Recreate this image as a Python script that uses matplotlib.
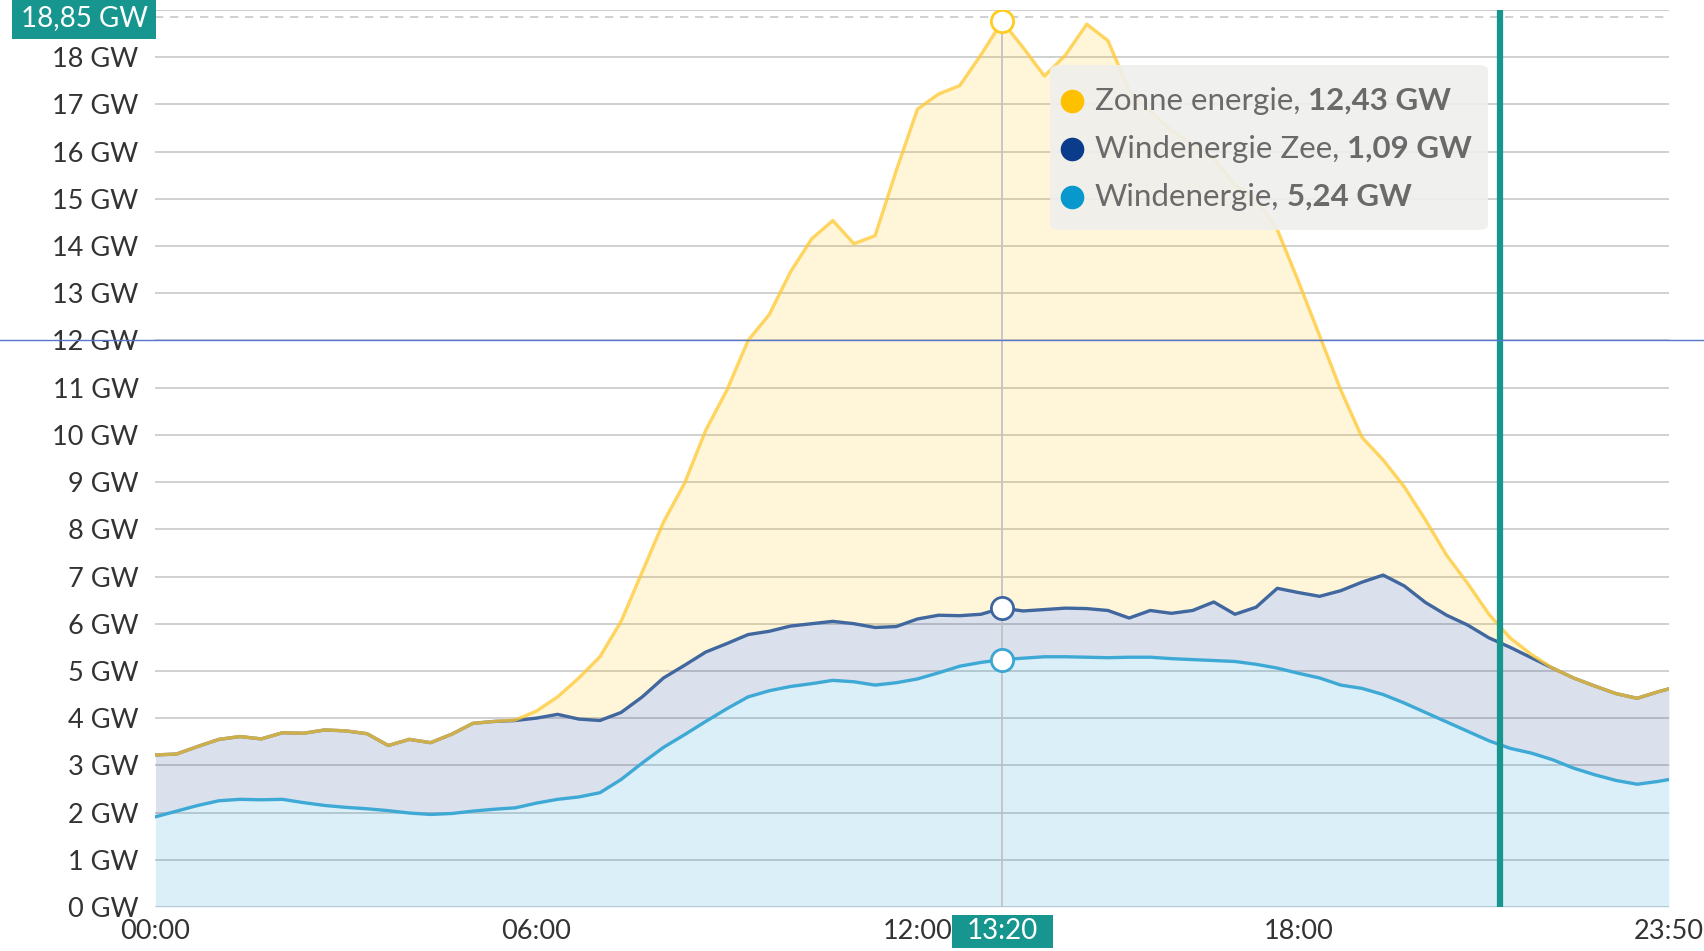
import numpy as np
import matplotlib
matplotlib.use('Agg')
import matplotlib.pyplot as plt
from matplotlib.patches import FancyBboxPatch, Rectangle
from matplotlib.transforms import blended_transform_factory

plt.rcParams['font.family'] = ['Lato', 'DejaVu Sans']

# tijdstippen (minuten), elke 20 min + laatste punt 23:50
minutes = list(range(0, 24 * 60, 20)) + [23 * 60 + 50]

# Windenergie (GW)
wind = [1.91, 2.03, 2.15, 2.25, 2.28, 2.27, 2.28, 2.21, 2.15, 2.11, 2.08, 2.04,
        1.99, 1.96, 1.98, 2.03, 2.07, 2.10, 2.20, 2.28, 2.33, 2.42, 2.70, 3.05,
        3.38, 3.65, 3.93, 4.20, 4.45, 4.58, 4.67, 4.73, 4.80, 4.77, 4.70, 4.75,
        4.83, 4.96, 5.10, 5.18, 5.24, 5.27, 5.30, 5.30, 5.29, 5.28, 5.29, 5.29,
        5.26, 5.24, 5.22, 5.20, 5.14, 5.06, 4.95, 4.85, 4.70, 4.63, 4.50, 4.32,
        4.12, 3.92, 3.72, 3.52, 3.36, 3.26, 3.12, 2.94, 2.80, 2.68, 2.60, 2.66,
        2.70]

# Windenergie Zee (GW)
wind_zee = [1.31, 1.21, 1.25, 1.30, 1.33, 1.29, 1.41, 1.47, 1.60, 1.62, 1.59, 1.38,
            1.56, 1.52, 1.68, 1.86, 1.86, 1.85, 1.80, 1.80, 1.65, 1.53, 1.42, 1.40,
            1.47, 1.47, 1.47, 1.38, 1.32, 1.26, 1.28, 1.27, 1.25, 1.23, 1.22, 1.19,
            1.27, 1.22, 1.07, 1.02, 1.09, 1.00, 1.00, 1.03, 1.03, 1.00, 0.83, 0.99,
            0.96, 1.04, 1.24, 1.00, 1.21, 1.69, 1.71, 1.73, 2.00, 2.25, 2.53, 2.48,
            2.33, 2.26, 2.25, 2.18, 2.14, 2.02, 1.94, 1.91, 1.88, 1.84, 1.82, 1.90,
            1.92]

# Zonne energie (GW)
zon = [0, 0, 0, 0, 0, 0, 0, 0, 0, 0, 0, 0,
       0, 0, 0, 0, 0, 0.01, 0.15, 0.37, 0.87, 1.35, 1.93, 2.65,
       3.30, 3.86, 4.70, 5.37, 6.23, 6.71, 7.50, 8.15, 8.49, 8.05, 8.30, 9.66,
       10.80, 11.04, 11.23, 11.85, 12.43, 11.93, 11.30, 11.72, 12.38, 12.07, 11.18, 10.57,
       10.23, 9.87, 9.39, 9.10, 8.65, 7.60, 6.59, 5.52, 4.25, 3.07, 2.44, 2.10,
       1.75, 1.27, 0.88, 0.50, 0.20, 0.07, 0, 0, 0, 0, 0, 0,
       0]

tick_labels = ['00:00', '06:00', '12:00', '18:00', '23:50']
tick_minutes = [0, 360, 720, 1080, 1430]
hover_minute = 13 * 60 + 20
hover_label = '13:20'
max_label = '18,85 GW'
max_value = 18.85
now_minute = 21 * 60 + 10
legend_items = [('Zonne energie', '12,43 GW', '#ffc000'),
                ('Windenergie Zee', '1,09 GW', '#0b3c8c'),
                ('Windenergie', '5,24 GW', '#0898cd')]

x = np.array(minutes) / 60.0
c1 = np.array(wind)
c2 = c1 + np.array(wind_zee)
c3 = c2 + np.array(zon)

fig = plt.figure(figsize=(17.04, 9.51), dpi=100)
ax = fig.add_axes([0.0912, 0.0463, 0.8882, 0.9432])

ax.fill_between(x, 0, c1, color='#0898cd', alpha=0.15, lw=0, zorder=2)
ax.fill_between(x, c1, c2, color='#0b3c8c', alpha=0.15, lw=0, zorder=2)
ax.fill_between(x, c2, c3, color='#ffc000', alpha=0.15, lw=0, zorder=2)
ax.plot(x, c1, color='#3fa9d6', lw=2.4, zorder=3)
ax.plot(x, c2, color='#41679f', lw=2.4, zorder=3)
ax.plot(x, c3, color='#ffc82e', lw=2.4, alpha=0.75, zorder=4)

ax.set_xlim(0, 1430 / 60)
ax.set_ylim(0, 19)
ax.set_yticks(range(0, 20))
ax.set_yticklabels([f'{i} GW' for i in range(0, 19)] + [''])
ax.set_xticks(np.array(tick_minutes) / 60)
ax.set_xticklabels(tick_labels)
ax.tick_params(length=0, labelsize=19.5, labelcolor='#333333')
ax.tick_params(axis='y', pad=12)
ax.tick_params(axis='x', pad=9)
ax.grid(axis='y', color='#c8c8c8', lw=1.2, zorder=1)
ax.set_axisbelow(True)
for s in ax.spines.values():
    s.set_visible(False)

# crosshair en max-lijn
hx = hover_minute / 60
ax.axvline(hx, color='#c0c0c0', lw=1.2, zorder=5)
ax.axhline(max_value, color='#c8c8c8', lw=1.2, ls=(0, (5, 4)), zorder=5)
ax.axvline(now_minute / 60, color='#17968f', lw=4.5, zorder=6)

i = minutes.index(hover_minute)
for yv, ec in [(c3[i], '#ffcc22'), (c2[i], '#3d65a0'), (c1[i], '#3aa6d2')]:
    ax.plot(hx, yv, 'o', ms=16, mfc='white', mec=ec, mew=2, zorder=7)

# blauwe lijn over hele breedte op 12 GW
tr = blended_transform_factory(fig.transFigure, ax.transData)
ax.plot([0, 1], [12, 12], transform=tr, color='#5577cc', lw=1, clip_on=False, zorder=8)

# labels
fig.text(0.0493, 0.9815, max_label, ha='center', va='center', fontsize=20, color='white',
         bbox=dict(boxstyle='square,pad=0.3', fc='#17968f', ec='none'))
trx = blended_transform_factory(ax.transData, ax.transAxes)
ax.add_patch(Rectangle((hx - 0.795, -0.0457), 1.59, 0.0368, transform=trx,
                       fc='#17968f', ec='none', clip_on=False, zorder=9))
ax.text(hx, -0.0273, hover_label, transform=trx, ha='center', va='center',
        fontsize=20, color='white', zorder=10)

# tooltip
W, H = 1704, 951
box = FancyBboxPatch((1050 / W, 1 - 230 / H), 438 / W, 165 / H, transform=fig.transFigure,
                     boxstyle='round,pad=0,rounding_size=0.006', fc='#efefed', ec='none',
                     alpha=0.9, zorder=10)
fig.patches.append(box)
fig.canvas.draw()
r = fig.canvas.get_renderer()
for k, (name, val, col) in enumerate(legend_items):
    yy = 1 - (101 + 48 * k) / H
    fig.lines.append(plt.Line2D([1072 / W], [yy], marker='o', ms=16, color=col,
                                transform=fig.transFigure, zorder=11))
    t = fig.text(1095 / W, yy, name + ',', ha='left', va='center', fontsize=22.5,
                 color='#6a6a6a', zorder=11)
    bb = t.get_window_extent(r)
    fig.text((bb.x1 + 8) / W, yy, val, ha='left', va='center', fontsize=22.5,
             fontweight='bold', color='#6a6a6a', zorder=11)

fig.savefig('out.png', dpi=100)
